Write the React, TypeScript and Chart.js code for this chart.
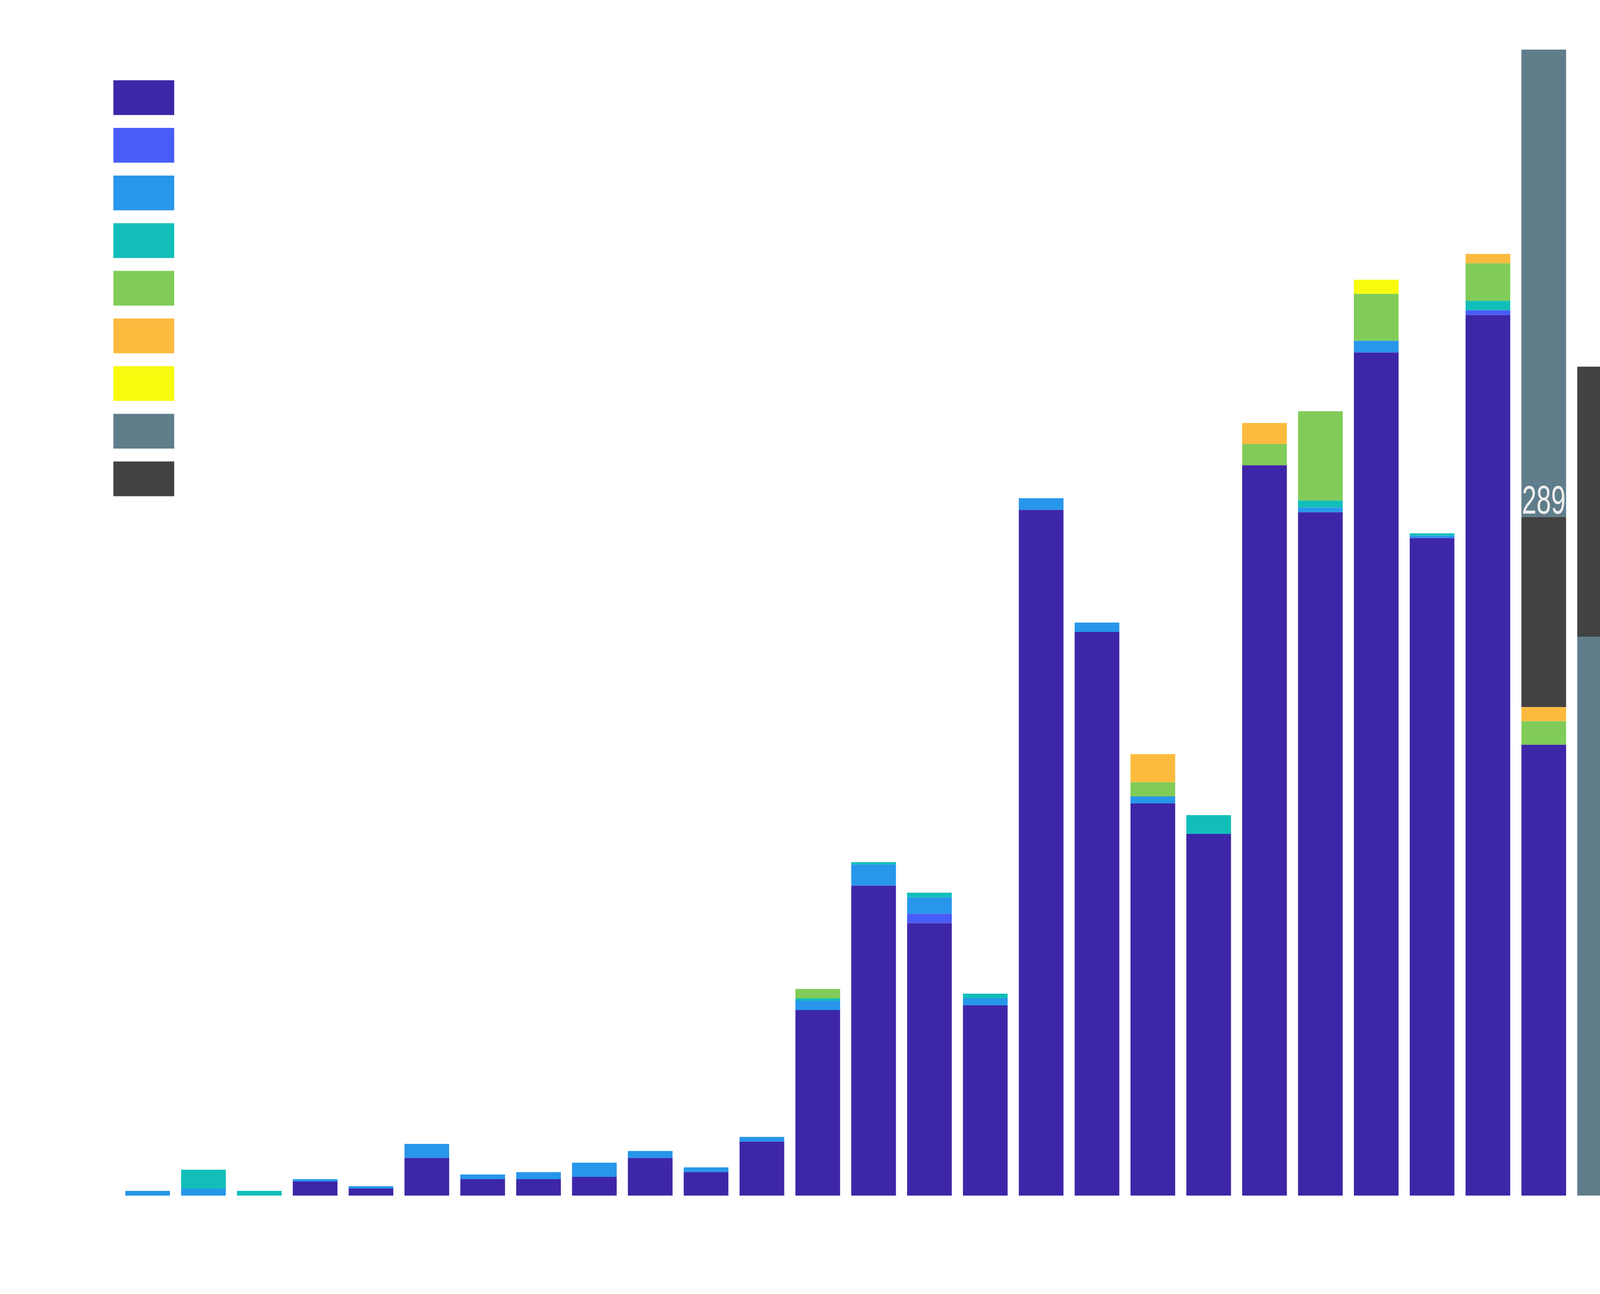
import { useEffect, useRef } from "react";
import {
  Chart,
  BarController,
  BarElement,
  LinearScale,
  Legend,
} from "chart.js";

Chart.register(BarController, BarElement, LinearScale, Legend);

// the layout below is measured on a 5263 x 3313 picture and scaled to the viewport
const REF_W = 5263;
const REF_H = 3313;

// one bar per period, no axis labels are shown
const periods = [
  1, 2, 3, 4, 5, 6, 7, 8, 9, 10, 11, 12, 13, 14, 15, 16, 17, 18, 19, 20, 21,
  22, 23, 24, 25, 26, 27,
];

const indigo = [
  0, 0, 0, 6, 3, 16, 7, 7, 8, 16, 10, 23, 79, 132, 116, 81, 292, 240, 167,
  154, 311, 291, 359, 280, 375, 192, 0,
];
const royal = [
  0, 0, 0, 0, 0, 0, 0, 0, 0, 0, 0, 0, 0, 0, 4, 0, 0, 0, 0, 0, 0, 0, 0, 0, 2,
  0, 0,
];
const azure = [
  2, 3, 0, 1, 1, 6, 2, 3, 6, 3, 2, 2, 4, 9, 7, 3, 5, 4, 3, 0, 0, 2, 5, 1, 0,
  0, 0,
];
const teal = [
  0, 8, 2, 0, 0, 0, 0, 0, 0, 0, 0, 0, 1, 1, 2, 2, 0, 0, 0, 8, 0, 3, 0, 1, 4,
  0, 0,
];
const green = [
  0, 0, 0, 0, 0, 0, 0, 0, 0, 0, 0, 0, 4, 0, 0, 0, 0, 0, 6, 0, 9, 38, 20, 0,
  16, 10, 0,
];
const amber = [
  0, 0, 0, 0, 0, 0, 0, 0, 0, 0, 0, 0, 0, 0, 0, 0, 0, 0, 12, 0, 9, 0, 0, 0, 4,
  6, 0,
];
const yellow = [
  0, 0, 0, 0, 0, 0, 0, 0, 0, 0, 0, 0, 0, 0, 0, 0, 0, 0, 0, 0, 0, 0, 6, 0, 0,
  0, 0,
];
// the slate series sits under the charcoal one in the last bar and above it in the one before
const slateBelow = [
  0, 0, 0, 0, 0, 0, 0, 0, 0, 0, 0, 0, 0, 0, 0, 0, 0, 0, 0, 0, 0, 0, 0, 0, 0,
  0, 238,
];
const charcoal = [
  0, 0, 0, 0, 0, 0, 0, 0, 0, 0, 0, 0, 0, 0, 0, 0, 0, 0, 0, 0, 0, 0, 0, 0, 0,
  81, 115,
];
const slateAbove = [
  0, 0, 0, 0, 0, 0, 0, 0, 0, 0, 0, 0, 0, 0, 0, 0, 0, 0, 0, 0, 0, 0, 0, 0, 0,
  199, 0,
];

const Y_MAX = 492;

const series = [
  { data: indigo, color: "#3e26a8" },
  { data: royal, color: "#485cf8" },
  { data: azure, color: "#2796eb" },
  { data: teal, color: "#12beb9" },
  { data: green, color: "#81cc59" },
  { data: amber, color: "#fcbb3e" },
  { data: yellow, color: "#f9fb0e" },
  { data: slateBelow, color: "#607d8b" },
  { data: charcoal, color: "#424242" },
  { data: slateAbove, color: "#607d8b", noLegend: true },
];

const LABEL_SERIES = 8; // charcoal
const LABEL_INDEX = 25;

const makeStackLabel = (sx: number, sy: number) => ({
  id: "stackLabel",
  afterDatasetsDraw(chart: Chart) {
    const bar = chart.getDatasetMeta(LABEL_SERIES).data[LABEL_INDEX];
    if (!bar) return;

    const total = series
      .slice(0, LABEL_SERIES + 1)
      .reduce((sum, s) => sum + s.data[LABEL_INDEX], 0);
    const text = String(total);

    const { ctx } = chart;
    ctx.save();
    ctx.font = `${Math.round(102 * sy)}px 'Liberation Sans', Arial, sans-serif`;
    ctx.fillStyle = "#eeeeee";
    ctx.textAlign = "center";
    ctx.textBaseline = "alphabetic";

    // the digits are narrower than the font draws them
    const m = ctx.measureText(text);
    const ink = m.actualBoundingBoxLeft + m.actualBoundingBoxRight;
    const squeeze = ink > 0 ? Math.min(1, (136 * sx) / ink) : 1;

    ctx.translate(bar.x, bar.y - 8 * sy);
    ctx.scale(squeeze, 1);
    ctx.fillText(text, 0, 0);
    ctx.restore();
  },
});

export default function App() {
  const canvasRef = useRef<HTMLCanvasElement>(null);

  useEffect(() => {
    document.body.style.margin = "0";
    document.body.style.overflow = "hidden";

    const canvas = canvasRef.current;
    if (!canvas) return;

    const W = window.innerWidth;
    const H = window.innerHeight;
    canvas.width = W;
    canvas.height = H;
    canvas.style.width = `${W}px`;
    canvas.style.height = `${H}px`;

    const sx = W / REF_W;
    const sy = H / REF_H;

    const rowGap = 33 * sy;
    const areaLeft = 373 * sx - rowGap; // legend swatches start one gap inside the area
    const pitch = 183.7 * sx;
    const xMin = periods[0] - (485.5 * sx - areaLeft) / pitch;
    const xMax = xMin + (W - areaLeft) / pitch;

    const chart = new Chart(canvas, {
      type: "bar",
      data: {
        labels: periods,
        datasets: series.map((s) => ({
          label: "",
          data: s.data,
          backgroundColor: s.color,
          borderWidth: 0,
          barPercentage: 0.8,
          categoryPercentage: 1,
        })),
      },
      options: {
        responsive: false,
        animation: false,
        layout: {
          padding: {
            left: areaLeft,
            top: 103 * sy,
            right: 0,
            bottom: 252 * sy,
          },
        },
        plugins: {
          tooltip: { enabled: false },
          legend: {
            position: "chartArea",
            align: "start",
            // empty title only pushes the swatches down to where they sit in the original
            title: {
              display: true,
              text: "",
              font: { size: 12 },
              padding: { top: 0, bottom: 205.4 * sy - rowGap - 14.4 },
            },
            labels: {
              boxWidth: 200 * sx,
              boxHeight: 89 * sy,
              padding: rowGap,
              font: { size: 12 },
              filter: (item) => !series[item.datasetIndex ?? 0].noLegend,
            },
          },
        },
        scales: {
          x: {
            type: "linear",
            display: false,
            stacked: true,
            offset: false,
            min: xMin,
            max: xMax,
            ticks: { stepSize: 1, includeBounds: false },
          },
          y: {
            display: false,
            stacked: true,
            min: 0,
            max: Y_MAX,
          },
        },
      },
      plugins: [makeStackLabel(sx, sy)],
    });

    return () => {
      chart.destroy();
    };
  }, []);

  return (
    <div style={{ width: "100vw", height: "100vh", overflow: "hidden" }}>
      <canvas ref={canvasRef} style={{ display: "block" }} />
    </div>
  );
}
